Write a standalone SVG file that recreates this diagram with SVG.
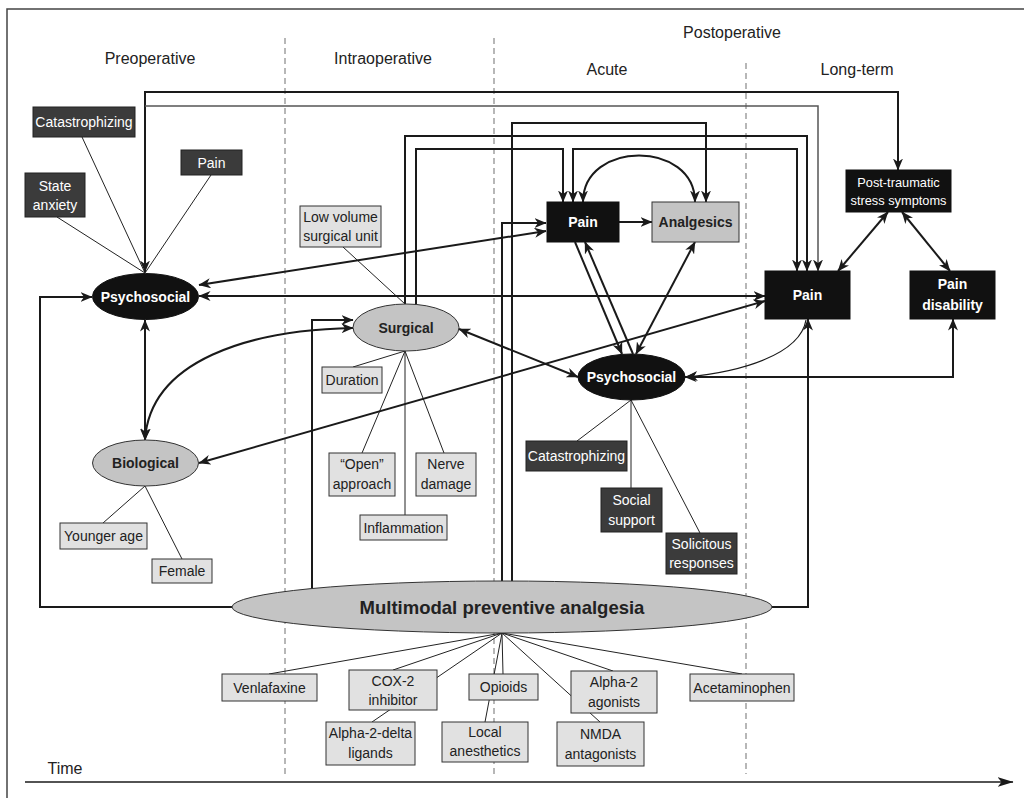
<svg xmlns="http://www.w3.org/2000/svg" width="1024" height="798" viewBox="0 0 1024 798">
<defs>
<marker id="ah" viewBox="0 0 12 10" markerWidth="12" markerHeight="10" refX="11.5" refY="5" markerUnits="userSpaceOnUse" orient="auto-start-reverse">
<path d="M0,0 L12,5 L0,10 L3.5,5 Z" fill="#1a1a1a"/>
</marker>
<marker id="tah" viewBox="0 0 16 10" markerWidth="16" markerHeight="10" refX="15.5" refY="5" markerUnits="userSpaceOnUse" orient="auto">
<path d="M0,0 L16,5 L0,10 L4,5 Z" fill="#1a1a1a"/>
</marker>
<style>
text{font-family:"Liberation Sans",Arial,sans-serif;}
.hd{font-size:16px;fill:#222;text-anchor:middle;}
.lb{font-size:14px;text-anchor:middle;fill:#222;}
.lw{font-size:14px;text-anchor:middle;fill:#fff;}
.bw{font-size:14px;font-weight:bold;text-anchor:middle;fill:#fff;}
.bd{font-size:14px;font-weight:bold;text-anchor:middle;fill:#222;}
.light{fill:#e1e1e1;stroke:#333;stroke-width:1;}
.dark{fill:#3b3b3b;stroke:#222;stroke-width:1;}
.black{fill:#111;stroke:#111;stroke-width:1;}
.gray{fill:#c4c4c4;stroke:#333;stroke-width:1;}
.c{fill:none;stroke:#1a1a1a;stroke-width:2;}
.t{fill:none;stroke:#222;stroke-width:1;}
.dash{stroke:#888;stroke-width:1.2;stroke-dasharray:6,4;fill:none;}
</style>
</defs>
<rect width="1024" height="798" fill="#fff"/>
<g id="frame">
<path d="M7,800 V9 H1024" fill="none" stroke="#444" stroke-width="1.5"/>
<line class="dash" x1="285" y1="38" x2="285" y2="774"/>
<line class="dash" x1="494" y1="38" x2="494" y2="774"/>
<line class="dash" x1="746" y1="63" x2="746" y2="774"/>
<line x1="25" y1="782" x2="1013" y2="782" stroke="#1a1a1a" stroke-width="1.5" marker-end="url(#tah)"/>
<text x="65" y="774" style="font-size:16px;fill:#222;text-anchor:middle">Time</text>
</g>
<g id="headings">
<text class="hd" x="150" y="64">Preoperative</text>
<text class="hd" x="383" y="64">Intraoperative</text>
<text class="hd" x="732" y="38">Postoperative</text>
<text class="hd" x="607" y="75">Acute</text>
<text class="hd" x="857" y="75">Long-term</text>
</g>
<g id="connectors">
<path class="t" d="M82,137 L145,273 M57,217 L145,273 M211,175 L145,273"/>
<path class="t" d="M343,247 L405,304"/>
<path class="t" d="M405,351 L353,367 M405,351 L362,453 M405,351 L444,453 M405,351 L405,515"/>
<path class="t" d="M145,486 L103,523 M145,486 L182,559"/>
<path class="t" d="M631,400 L577,441 M631,400 L631,488 M631,400 L700,533"/>
<path class="t" d="M502,633 L269,674 M502,633 L393,670 M502,633 L372,722 M502,633 L503,674 M502,633 L485,722 M502,633 L613,671 M502,633 L600,722 M502,633 L742,674"/>
<path class="c" d="M145,272 V92 H898 V170" marker-start="url(#ah)" marker-end="url(#ah)"/>
<path d="M145,106 H818 V271" fill="none" stroke="#555" stroke-width="1.5" marker-end="url(#ah)"/>
<path class="c" d="M405,304 V136 H807 V271" marker-end="url(#ah)"/>
<path class="c" d="M416,305 V149 H563 V202" marker-end="url(#ah)"/>
<path class="c" d="M573,202 V149 H797 V271" marker-start="url(#ah)" marker-end="url(#ah)"/>
<path class="c" d="M512,581 V123 H706 V202" marker-end="url(#ah)"/>
<path class="c" d="M502,581 V223 H546" marker-end="url(#ah)"/>
<path class="c" d="M619,222 H652" marker-end="url(#ah)"/>
<path class="c" d="M583,202 C583,140 695,140 695,202" marker-start="url(#ah)" marker-end="url(#ah)"/>
<path class="c" d="M575,242 L622,354" marker-end="url(#ah)"/>
<path class="c" d="M633,354 L585,242" marker-end="url(#ah)"/>
<path class="c" d="M695,242 L636,354" marker-start="url(#ah)" marker-end="url(#ah)"/>
<path class="c" d="M199,285 L546,231" marker-start="url(#ah)" marker-end="url(#ah)"/>
<path class="c" d="M199,296 H765" marker-start="url(#ah)" marker-end="url(#ah)"/>
<path class="c" d="M145,320 V440" marker-start="url(#ah)" marker-end="url(#ah)"/>
<path class="c" d="M145,440 C150,360 250,330 353,328" marker-start="url(#ah)" marker-end="url(#ah)"/>
<path class="c" d="M199,463 L765,301" marker-start="url(#ah)" marker-end="url(#ah)"/>
<path class="c" d="M459,329 L578,377" marker-start="url(#ah)" marker-end="url(#ah)"/>
<path class="c" d="M312,589 V320 H353" marker-end="url(#ah)"/>
<path class="c" d="M232,607 H40 V297 H92" marker-end="url(#ah)"/>
<path class="c" d="M772,607 H808 V319" marker-end="url(#ah)"/>
<path class="c" d="M685,377 H953 V319" marker-start="url(#ah)" marker-end="url(#ah)"/>
<path d="M806,320 C800,355 740,372 686,377" fill="none" stroke="#1a1a1a" stroke-width="1.2" marker-end="url(#ah)"/>
<path class="c" d="M888,212 L838,271" marker-start="url(#ah)" marker-end="url(#ah)"/>
<path class="c" d="M902,212 L950,271" marker-start="url(#ah)" marker-end="url(#ah)"/>
</g>
<g id="pre-catastrophizing"><rect class="dark" x="33" y="107" width="102" height="30"/><text class="lw" x="84" y="127">Catastrophizing</text></g>
<g id="pre-pain"><rect class="dark" x="181" y="150" width="61" height="25"/><text class="lw" x="211.5" y="167.5">Pain</text></g>
<g id="pre-anxiety"><rect class="dark" x="25" y="173" width="60" height="44"/><text class="lw" x="55" y="191">State</text><text class="lw" x="55" y="210">anxiety</text></g>
<g id="pre-psychosocial"><ellipse class="black" cx="145.5" cy="296.5" rx="53" ry="23"/><text class="bw" x="145.5" y="301.5">Psychosocial</text></g>
<g id="biological"><ellipse class="gray" cx="145.5" cy="463" rx="53" ry="23"/><text class="bd" x="145.5" y="468">Biological</text></g>
<g id="younger-age"><rect class="light" x="60" y="523" width="87" height="26"/><text class="lb" x="103.5" y="541">Younger age</text></g>
<g id="female"><rect class="light" x="152" y="559" width="60" height="24"/><text class="lb" x="182" y="576">Female</text></g>
<g id="low-volume"><rect class="light" x="300" y="206" width="81" height="41"/><text class="lb" x="340.5" y="222">Low volume</text><text class="lb" x="340.5" y="241">surgical unit</text></g>
<g id="surgical"><ellipse class="gray" cx="406" cy="327.5" rx="53" ry="23.5"/><text class="bd" x="406" y="332.5">Surgical</text></g>
<g id="duration"><rect class="light" x="322" y="367" width="60" height="26"/><text class="lb" x="352" y="385">Duration</text></g>
<g id="open-approach"><rect class="light" x="329" y="453" width="66" height="43"/><text class="lb" x="362" y="469">“Open”</text><text class="lb" x="362" y="489">approach</text></g>
<g id="nerve-damage"><rect class="light" x="416" y="453" width="60" height="43"/><text class="lb" x="446" y="469">Nerve</text><text class="lb" x="446" y="489">damage</text></g>
<g id="inflammation"><rect class="light" x="360" y="515" width="87" height="25"/><text class="lb" x="403.5" y="532.5">Inflammation</text></g>
<g id="acute-pain"><rect class="black" x="547" y="202" width="72" height="40"/><text class="bw" x="583" y="227">Pain</text></g>
<g id="analgesics"><rect class="gray" x="652" y="202" width="87" height="40"/><text class="bd" x="695.5" y="227">Analgesics</text></g>
<g id="acute-psychosocial"><ellipse class="black" cx="631.5" cy="377" rx="53.5" ry="23"/><text class="bw" x="631.5" y="382">Psychosocial</text></g>
<g id="acute-catastrophizing"><rect class="dark" x="526" y="441" width="101" height="30"/><text class="lw" x="576.5" y="461">Catastrophizing</text></g>
<g id="social-support"><rect class="dark" x="601" y="488" width="61" height="44"/><text class="lw" x="631.5" y="505">Social</text><text class="lw" x="631.5" y="525">support</text></g>
<g id="solicitous"><rect class="dark" x="666" y="533" width="71" height="41"/><text class="lw" x="701.5" y="549">Solicitous</text><text class="lw" x="701.5" y="568">responses</text></g>
<g id="ptss"><rect class="black" x="846" y="170" width="105" height="42"/><text class="lw" x="898.5" y="187" style="font-size:12.8px">Post-traumatic</text><text class="lw" x="898.5" y="205" style="font-size:12.8px">stress symptoms</text></g>
<g id="lt-pain"><rect class="black" x="765" y="271" width="85" height="48"/><text class="bw" x="807.5" y="300">Pain</text></g>
<g id="pain-disability"><rect class="black" x="910" y="271" width="85" height="48"/><text class="bw" x="952.5" y="289">Pain</text><text class="bw" x="952.5" y="310">disability</text></g>
<g id="multimodal"><ellipse class="gray" cx="502" cy="607" rx="270" ry="26"/><text x="502" y="613.5" style="font-size:18.5px;font-weight:bold;fill:#222;text-anchor:middle">Multimodal preventive analgesia</text></g>
<g id="venlafaxine"><rect class="light" x="222" y="674" width="95" height="27"/><text class="lb" x="269.5" y="692.5">Venlafaxine</text></g>
<g id="cox2"><rect class="light" x="349" y="670" width="88" height="40"/><text class="lb" x="393" y="686">COX-2</text><text class="lb" x="393" y="705">inhibitor</text></g>
<g id="opioids"><rect class="light" x="469" y="674" width="69" height="26"/><text class="lb" x="503.5" y="692">Opioids</text></g>
<g id="alpha2"><rect class="light" x="571" y="671" width="86" height="42"/><text class="lb" x="614" y="687">Alpha-2</text><text class="lb" x="614" y="707">agonists</text></g>
<g id="acetaminophen"><rect class="light" x="690" y="674" width="104" height="27"/><text class="lb" x="742" y="692.5">Acetaminophen</text></g>
<g id="alpha2delta"><rect class="light" x="326" y="722" width="89" height="43"/><text class="lb" x="370.5" y="738">Alpha-2-delta</text><text class="lb" x="370.5" y="758">ligands</text></g>
<g id="local-anesthetics"><rect class="light" x="442" y="722" width="86" height="40"/><text class="lb" x="485" y="737">Local</text><text class="lb" x="485" y="756">anesthetics</text></g>
<g id="nmda"><rect class="light" x="557" y="722" width="87" height="44"/><text class="lb" x="600.5" y="739">NMDA</text><text class="lb" x="600.5" y="759">antagonists</text></g>
</svg>
